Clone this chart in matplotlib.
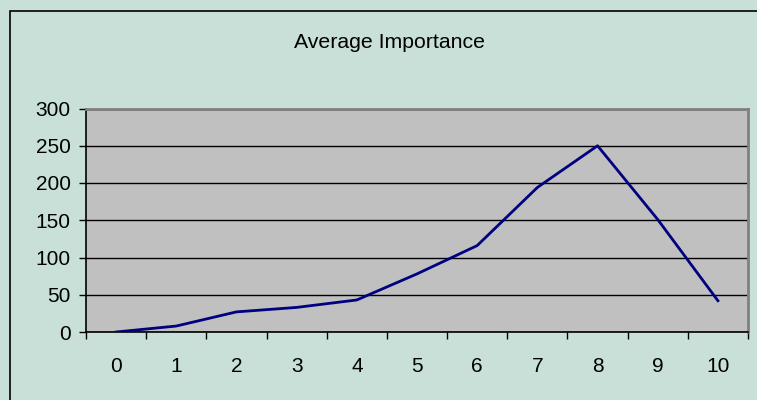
import matplotlib.pyplot as plt
from matplotlib.patches import Rectangle

categories = [0, 1, 2, 3, 4, 5, 6, 7, 8, 9, 10]
importance = [0, 8, 27, 33, 43, 78, 116, 194, 250, 151, 42]
y_ticks = [0, 50, 100, 150, 200, 250, 300]

plt.rcParams['font.family'] = ['Liberation Sans', 'DejaVu Sans']

W, H = 757, 400
fig = plt.figure(figsize=(W / 100, H / 100), dpi=100)
fig.patch.set_facecolor('#c8e0d8')

# outer chart frame (runs off the right and bottom edges)
fig.patches.append(Rectangle((10 / W, -0.05), 1.0, 1 - 11 / H + 0.05,
                             transform=fig.transFigure, fill=False,
                             edgecolor='black', linewidth=1.2, zorder=0))

ax = fig.add_axes([86 / W, 1 - 332 / H, (748 - 86) / W, (332 - 108.5) / H])
ax.set_facecolor('#c0c0c0')

ax.plot(categories, importance, color='#000080', linewidth=2.0, zorder=3)

ax.set_xlim(-0.5, len(categories) - 0.5)
ax.set_ylim(0, 300)
ax.set_yticks(y_ticks)
ax.set_xticks(categories)
ax.set_xticklabels([str(c) for c in categories])
ax.set_xticks([c - 0.5 for c in categories] + [len(categories) - 0.5], minor=True)

ax.yaxis.grid(True, color='black', linewidth=1.0)
ax.set_axisbelow(True)

ax.tick_params(axis='x', which='major', length=0, pad=18, labelsize=15)
ax.tick_params(axis='x', which='minor', length=5, width=1, direction='out')
ax.tick_params(axis='y', length=5, width=1, direction='out', pad=6, labelsize=15)

for side in ('top', 'right'):
    ax.spines[side].set_color('#808080')
    ax.spines[side].set_linewidth(2)
for side in ('left', 'bottom'):
    ax.spines[side].set_color('black')
    ax.spines[side].set_linewidth(1.2)

fig.text(390 / W, 1 - 48 / H, 'Average Importance', ha='center', va='baseline',
         fontsize=15.3)

fig.savefig('out.png', dpi=100, facecolor=fig.get_facecolor())
